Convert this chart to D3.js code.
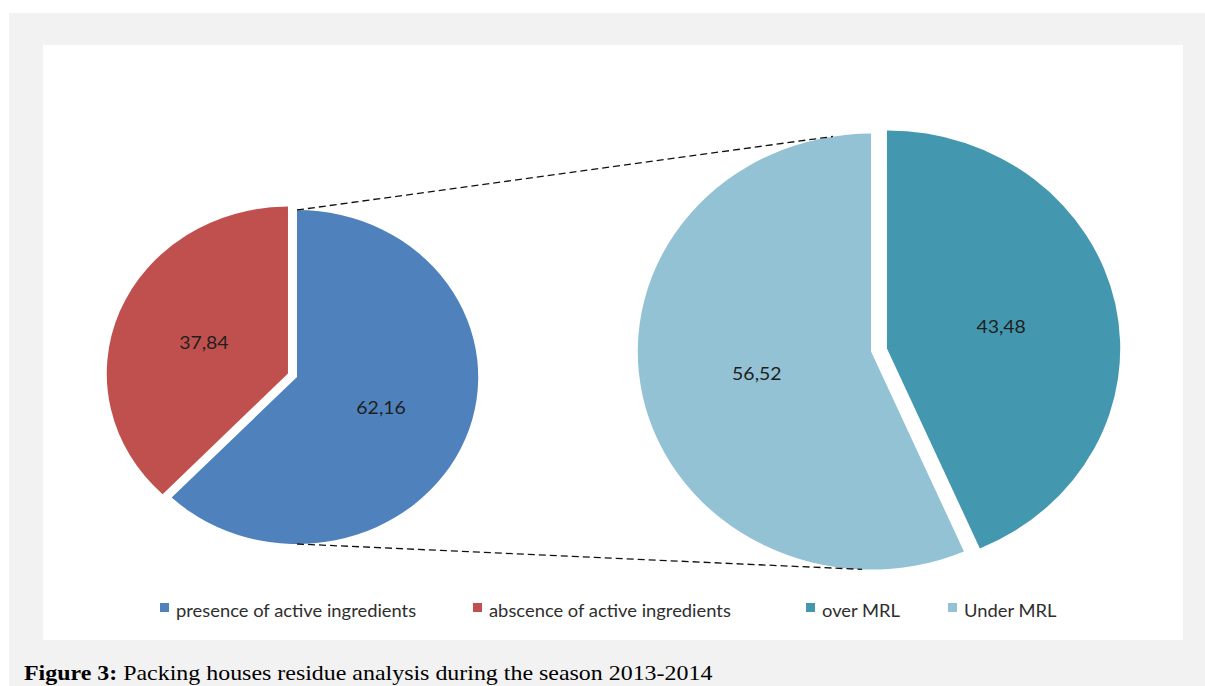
<!DOCTYPE html>
<html>
<head>
<meta charset="utf-8">
<script src="https://cdn.jsdelivr.net/npm/d3@7"></script>
<style>
  html, body { margin: 0; padding: 0; background: #ffffff; }
  svg { display: block; }
</style>
</head>
<body>
<svg id="chart" width="1205" height="686"></svg>
<script>
// ---- data ----
const mainCategories = ["presence of active ingredients", "abscence of active ingredients"];
const mainValues = [62.16, 37.84];
const subCategories = ["over MRL", "Under MRL"];
const subValues = [43.48, 56.52];
const mainColors = ["#4F81BD", "#C0504D"];
const subColors = ["#4398B0", "#93C2D4"];
const legendLabels = mainCategories.concat(subCategories);
const legendColors = mainColors.concat(subColors);
const captionBold = "Figure 3:";
const captionText = " Packing houses residue analysis during the season 2013-2014";

const svg = d3.select("#chart");
const W = 1205, H = 686;
const stretch = 1.08;

// backgrounds
svg.append("rect").attr("x", 0).attr("y", 0).attr("width", W).attr("height", H).attr("fill", "#ffffff");
svg.append("rect").attr("x", 9).attr("y", 13).attr("width", W - 9).attr("height", H - 13).attr("fill", "#F2F2F2");
svg.append("rect").attr("x", 43).attr("y", 45).attr("width", 1140).attr("height", 595).attr("fill", "#ffffff");

const fmt = v => d3.format(".2f")(v).replace(".", ",");

const pieGen = d3.pie().sort(null).value(d => d.value).startAngle(0).endAngle(2 * Math.PI);

function drawPie(cfg) {
  const data = cfg.cats.map((c, i) => ({ cat: c, value: cfg.values[i], color: cfg.colors[i] }));
  const arcs = pieGen(data);
  const arc = d3.arc().innerRadius(0).outerRadius(cfg.r);
  const g = svg.append("g").attr("transform", `translate(${cfg.cx},${cfg.cy}) scale(${cfg.sx},1)`);
  arcs.forEach(a => {
    const mid = (a.startAngle + a.endAngle) / 2;
    a.ox = cfg.explode * Math.sin(mid);
    a.oy = -cfg.explode * Math.cos(mid);
    a.mid = mid;
  });
  g.selectAll("path.slice").data(arcs).enter().append("path")
    .attr("class", "slice")
    .attr("transform", d => `translate(${d.ox},${d.oy})`)
    .attr("d", arc)
    .attr("fill", d => d.data.color);
  svg.selectAll(null).data(arcs).enter().append("text")
    .attr("transform", d => {
      const x = cfg.cx + cfg.sx * (d.ox + cfg.r * 0.5 * Math.sin(d.mid));
      const y = cfg.cy + d.oy - cfg.r * 0.5 * Math.cos(d.mid);
      return `translate(${x},${y}) scale(${stretch},1)`;
    })
    .attr("dy", "0.35em")
    .attr("text-anchor", "middle")
    .attr("font-family", "Lato, 'Open Sans', sans-serif")
    .attr("font-size", 18)
    .attr("fill", "#1f1f1f")
    .text(d => fmt(d.data.value));
  return { arcs, point: (i, ang) => {
    const a = arcs[i];
    return [cfg.cx + cfg.sx * (a.ox + cfg.r * Math.sin(ang)), cfg.cy + a.oy - cfg.r * Math.cos(ang)];
  } };
}

const leftPie = drawPie({ cats: mainCategories, values: mainValues, colors: mainColors,
  cx: 292.5, cy: 375.3, r: 167, sx: 1.085, explode: 4.5 });
const rightPie = drawPie({ cats: subCategories, values: subValues, colors: subColors,
  cx: 879, cy: 350, r: 218, sx: 1.07, explode: 7.6 });

// connector lines
const deg = Math.PI / 180;
const lines = [
  [leftPie.point(0, 0), rightPie.point(1, -9.4 * deg)],
  [leftPie.point(0, 180 * deg), rightPie.point(1, 182.2 * deg)]
];
svg.selectAll("line.conn").data(lines).enter().append("line")
  .attr("class", "conn")
  .attr("x1", d => d[0][0]).attr("y1", d => d[0][1])
  .attr("x2", d => d[1][0]).attr("y2", d => d[1][1])
  .attr("stroke", "#111")
  .attr("stroke-width", 1.3)
  .attr("stroke-dasharray", "7,4");

// legend
const legendX = [160, 473, 806, 948];
const lg = svg.append("g");
legendLabels.forEach((t, i) => {
  lg.append("rect").attr("x", legendX[i]).attr("y", 603).attr("width", 9).attr("height", 9).attr("fill", legendColors[i]);
  lg.append("text").attr("transform", `translate(${legendX[i] + 16},617) scale(${stretch},1)`)
    .attr("font-family", "Lato, 'Open Sans', sans-serif").attr("font-size", 17).attr("fill", "#2e2e2e")
    .text(t);
});

// caption
const cap = svg.append("text").attr("transform", `translate(24,680) scale(1.088,1)`)
  .attr("font-family", "'Liberation Serif', 'Times New Roman', serif").attr("font-size", 22).attr("fill", "#000");
cap.append("tspan").attr("font-weight", "bold").text(captionBold);
cap.append("tspan").text(captionText);
</script>
</body>
</html>
